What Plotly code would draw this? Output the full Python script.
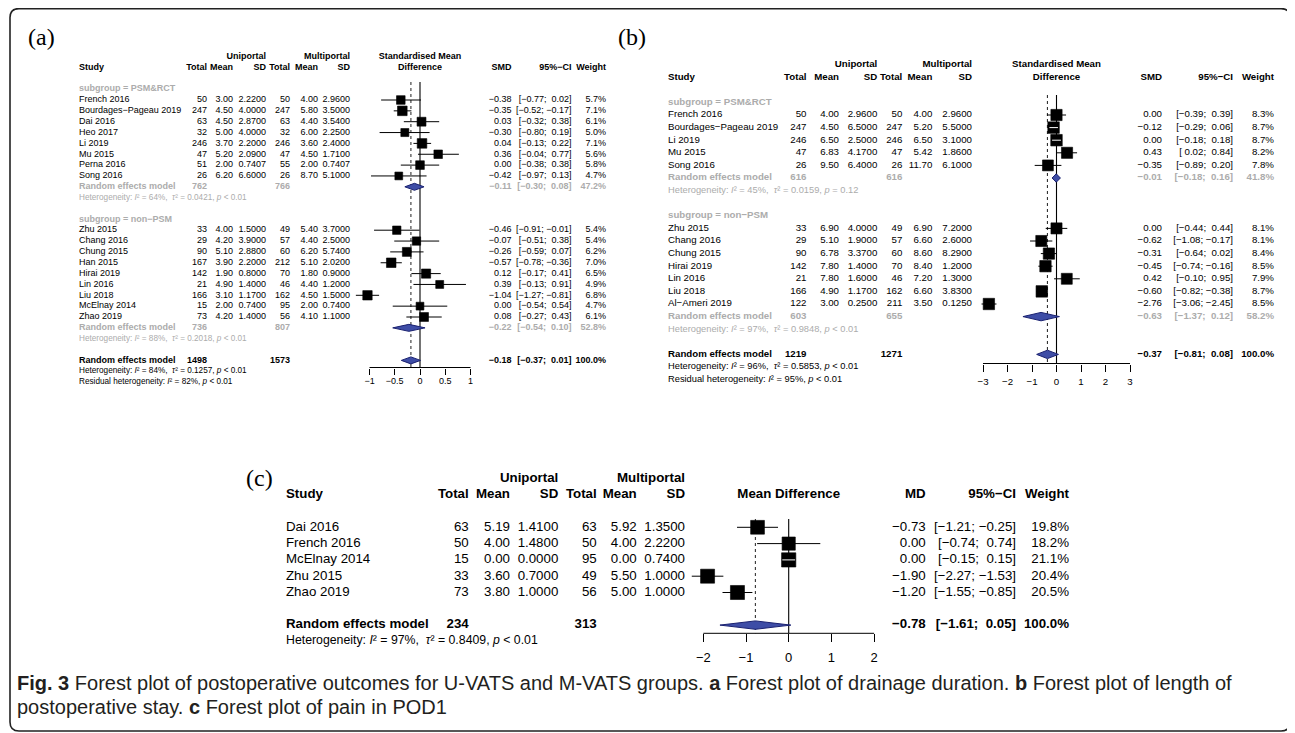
import math
import plotly.graph_objects as go

W, H = 1295, 733
OFF = 8  # the page body margin shifts the figure by this many pixels
SANS = "Liberation Sans, Arial, Helvetica, sans-serif"
SERIF = "Liberation Serif, Times New Roman, serif"
M = "\u2212"
NB = "\u00a0"
GRAY = "#acacac"
INK = "#000000"
DIA_FILL = "#3e4da6"
DIA_LINE = "#1a2170"

# ===================== Panel (a): drainage duration (SMD) =====================
A_STUDY = ["French 2016", "Bourdages−Pageau 2019", "Dai 2016", "Heo 2017", "Li 2019",
           "Mu 2015", "Perna 2016", "Song 2016",
           "Zhu 2015", "Chang 2016", "Chung 2015", "Han 2015", "Hirai 2019",
           "Lin 2016", "Liu 2018", "McElnay 2014", "Zhao 2019"]
A_GROUP = [0] * 8 + [1] * 9
A_N1 = [50, 247, 63, 32, 246, 47, 51, 26, 33, 29, 90, 167, 142, 21, 166, 15, 73]
A_M1 = [3.00, 4.50, 4.50, 5.00, 3.70, 5.20, 2.00, 6.20, 4.00, 4.20, 5.10, 3.90, 1.90, 4.90, 3.10, 2.00, 4.20]
A_S1 = [2.2200, 4.0000, 2.8700, 4.0000, 2.2000, 2.0900, 0.7407, 6.6000, 1.5000, 3.9000,
        2.8800, 2.2000, 0.8000, 1.4000, 1.1700, 0.7400, 1.4000]
A_N2 = [50, 247, 63, 32, 246, 47, 55, 26, 49, 57, 60, 212, 70, 46, 162, 95, 56]
A_M2 = [4.00, 5.80, 4.40, 6.00, 3.60, 4.50, 2.00, 8.70, 5.40, 4.40, 6.20, 5.10, 1.80, 4.40, 4.50, 2.00, 4.10]
A_S2 = [2.9600, 3.5000, 3.5400, 2.2500, 2.4000, 1.7100, 0.7407, 5.1000, 3.7000, 2.5000,
        5.7400, 2.0200, 0.9000, 1.2000, 1.5000, 0.7400, 1.1000]
A_EST = [-0.38, -0.35, 0.03, -0.30, 0.04, 0.36, 0.00, -0.42, -0.46, -0.07, -0.26, -0.57, 0.12, 0.39, -1.04, 0.00, 0.08]
A_LO = [-0.77, -0.52, -0.32, -0.80, -0.13, -0.04, -0.38, -0.97, -0.91, -0.51, -0.59, -0.78, -0.17, -0.13, -1.27, -0.54, -0.27]
A_HI = [0.02, -0.17, 0.38, 0.19, 0.22, 0.77, 0.38, 0.13, -0.01, 0.38, 0.07, -0.36, 0.41, 0.91, -0.81, 0.54, 0.43]
A_W = [5.7, 7.1, 6.1, 5.0, 7.1, 5.6, 5.8, 4.7, 5.4, 5.4, 6.2, 7.0, 6.5, 4.9, 6.8, 4.7, 6.1]
A_SUB_NAME = ["PSM&amp;RCT", "non−PSM"]
A_SUB_N1 = [762, 736]
A_SUB_N2 = [766, 807]
A_SUB_EST = [-0.11, -0.22]
A_SUB_LO = [-0.30, -0.54]
A_SUB_HI = [0.08, 0.10]
A_SUB_W = [47.2, 52.8]
A_SUB_I2 = [64, 88]
A_SUB_TAU2 = ["0.0421", "0.2018"]
A_SUB_P = ["&lt; 0.01", "&lt; 0.01"]
A_ALL_N = [1498, 1573]
A_ALL_EST = [-0.18, -0.37, 0.01]
A_ALL_HET = ["84", "0.1257", "&lt; 0.01"]
A_RESID = ["82", "&lt; 0.01"]
A_TICKS = [-1, -0.5, 0, 0.5, 1]

# ===================== Panel (b): length of postoperative stay (SMD) =====================
B_STUDY = ["French 2016", "Bourdages−Pageau 2019", "Li 2019", "Mu 2015", "Song 2016",
           "Zhu 2015", "Chang 2016", "Chung 2015", "Hirai 2019", "Lin 2016", "Liu 2018", "Al−Ameri 2019"]
B_GROUP = [0] * 5 + [1] * 7
B_N1 = [50, 247, 246, 47, 26, 33, 29, 90, 142, 21, 166, 122]
B_M1 = [4.00, 4.50, 6.50, 6.83, 9.50, 6.90, 5.10, 6.78, 7.80, 7.80, 4.90, 3.00]
B_S1 = [2.9600, 6.5000, 2.5000, 4.1700, 6.4000, 4.0000, 1.9000, 3.3700, 1.4000, 1.6000, 1.1700, 0.2500]
B_N2 = [50, 247, 246, 47, 26, 49, 57, 60, 70, 46, 162, 211]
B_M2 = [4.00, 5.20, 6.50, 5.42, 11.70, 6.90, 6.60, 8.60, 8.40, 7.20, 6.60, 3.50]
B_S2 = [2.9600, 5.5000, 3.1000, 1.8600, 6.1000, 7.2000, 2.6000, 8.2900, 1.2000, 1.3000, 3.8300, 0.1250]
B_EST = [0.00, -0.12, 0.00, 0.43, -0.35, 0.00, -0.62, -0.31, -0.45, 0.42, -0.60, -2.76]
B_LO = [-0.39, -0.29, -0.18, 0.02, -0.89, -0.44, -1.08, -0.64, -0.74, -0.10, -0.82, -3.06]
B_HI = [0.39, 0.06, 0.18, 0.84, 0.20, 0.44, -0.17, 0.02, -0.16, 0.95, -0.38, -2.45]
B_W = [8.3, 8.7, 8.7, 8.2, 7.8, 8.1, 8.1, 8.4, 8.5, 7.9, 8.7, 8.5]
B_SUB_NAME = ["PSM&amp;RCT", "non−PSM"]
B_SUB_N1 = [616, 603]
B_SUB_N2 = [616, 655]
B_SUB_EST = [-0.01, -0.63]
B_SUB_LO = [-0.18, -1.37]
B_SUB_HI = [0.16, 0.12]
B_SUB_W = [41.8, 58.2]
B_SUB_I2 = [45, 97]
B_SUB_TAU2 = ["0.0159", "0.9848"]
B_SUB_P = ["= 0.12", "&lt; 0.01"]
B_ALL_N = [1219, 1271]
B_ALL_EST = [-0.37, -0.81, 0.08]
B_ALL_HET = ["96", "0.5853", "&lt; 0.01"]
B_RESID = ["95", "&lt; 0.01"]
B_TICKS = [-3, -2, -1, 0, 1, 2, 3]

# ===================== Panel (c): pain in POD1 (MD) =====================
C_STUDY = ["Dai 2016", "French 2016", "McElnay 2014", "Zhu 2015", "Zhao 2019"]
C_N1 = [63, 50, 15, 33, 73]
C_M1 = [5.19, 4.00, 0.00, 3.60, 3.80]
C_S1 = [1.4100, 1.4800, 0.0000, 0.7000, 1.0000]
C_N2 = [63, 50, 95, 49, 56]
C_M2 = [5.92, 4.00, 0.00, 5.50, 5.00]
C_S2 = [1.3500, 2.2200, 0.7400, 1.0000, 1.0000]
C_EST = [-0.73, 0.00, 0.00, -1.90, -1.20]
C_LO = [-1.21, -0.74, -0.15, -2.27, -1.55]
C_HI = [-0.25, 0.74, 0.15, -1.53, -0.85]
C_W = [19.8, 18.2, 21.1, 20.4, 20.5]
C_ALL_N = [234, 313]
C_ALL_EST = [-0.78, -1.61, 0.05]
C_ALL_HET = ["97", "0.8409", "&lt; 0.01"]
C_TICKS = [-2, -1, 0, 1, 2]

CAPTION_1 = ("<b>Fig. 3</b> Forest plot of postoperative outcomes for U-VATS and M-VATS groups. "
             "<b>a</b> Forest plot of drainage duration. <b>b</b> Forest plot of length of")
CAPTION_2 = "postoperative stay. <b>c</b> Forest plot of pain in POD1"

# ---------------- layout configuration (window pixel positions) ----------------
CFG_A = dict(y0=100, sp=10.85, fs=9, hfs=8.2, study_x=79, cols=[207, 233, 266, 290, 318, 350],
             est_x=511.5, ci_x=571.5, w_x=606, x0=420, unit=50.5, R=1.6, vtop=82, axis_px=367.5,
             ticklen=6, tickfs=9, standoff=-1, sq=3.6, dia_px=3.5,
             title=["Standardised Mean", "Difference"], measure="SMD", head_k=-4,
             label="(a)", label_xy=(41, 37))
CFG_B = dict(y0=115, sp=12.6, fs=9.7, hfs=9.3, study_x=668, cols=[806.5, 839, 877.3, 902.3, 932.3, 972],
             est_x=1162, ci_x=1233, w_x=1274, x0=1056.5, unit=24.5, R=3.6, vtop=95, axis_px=363.5,
             ticklen=7, tickfs=9.7, standoff=2, sq=3.9, dia_px=4.2,
             title=["Standardised Mean", "Difference"], measure="SMD", head_k=-4,
             label="(b)", label_xy=(632, 37))
CFG_C = dict(y0=527.3, sp=16.3, fs=13.3, hfs=12.3, study_x=286, cols=[468.7, 510, 558.3, 596.7, 636.7, 685],
             est_x=925.7, ci_x=1016, w_x=1069, x0=788.7, unit=42.7, R=2.6, vtop=519, axis_px=633.3,
             ticklen=8, tickfs=13, standoff=4, sq=3.1, dia_px=4.2,
             title=[None, "Mean Difference"], measure="MD", head_k=-3,
             label="(c)", label_xy=(259, 478))


def px_x(x):
    return (x - OFF) / W


def px_y(y):
    return 1 - (y - OFF) / H


def fsig(v, d=2):
    s = f"{abs(v):.{d}f}"
    return (M + s) if v < 0 else s


def fpad(v):
    s = f"{abs(v):.2f}"
    return (M + s) if v < 0 else (NB + s)


def fci(lo, hi):
    return "[" + fpad(lo) + "; " + fpad(hi) + "]"


def het_txt(i2, tau2, p):
    return f"Heterogeneity: <i>I</i>² = {i2}%, {NB}<i>τ</i>² = {tau2}, <i>p</i> {p}"


fig = go.Figure()
TEXT = {}


def put(ya, x, k, txt, anchor, size, color):
    key = (ya, x, anchor, size)
    TEXT.setdefault(key, ([], [], []))
    TEXT[key][0].append(k)
    TEXT[key][1].append(txt)
    TEXT[key][2].append(color)


def draw_panel(ax, cfg, D):
    xa, ya = "x" + ax, "y" + ax
    y0, sp = cfg["y0"], cfg["sp"]

    def k_of(px):
        return (px - y0) / sp

    fs, hfs = cfg["fs"], cfg["hfs"]
    c = cfg["cols"]
    sx = cfg["study_x"]

    # headers
    h1, h2 = cfg["head_k"], cfg["head_k"] + 1
    put(ya, c[2], h1, "<b>Uniportal</b>", "r", fs, INK)
    put(ya, c[5], h1, "<b>Multiportal</b>", "r", fs, INK)
    put(ya, sx, h2, "<b>Study</b>", "l", fs, INK)
    for j, lab in enumerate(["Total", "Mean", "SD", "Total", "Mean", "SD"]):
        put(ya, c[j], h2, f"<b>{lab}</b>", "r", fs, INK)
    if cfg["title"][0]:
        put(ya, cfg["x0"], h1, f"<b>{cfg['title'][0]}</b>", "c", fs, INK)
    put(ya, cfg["x0"], h2, f"<b>{cfg['title'][1]}</b>", "c", fs, INK)
    put(ya, cfg["est_x"], h2, f"<b>{cfg['measure']}</b>", "r", fs, INK)
    put(ya, cfg["ci_x"], h2, f"<b>95%{M}CI</b>", "r", fs, INK)
    put(ya, cfg["w_x"], h2, "<b>Weight</b>", "r", fs, INK)

    study_rows = []
    diamonds = []  # (k, est, lo, hi)

    def study_row(i, k):
        put(ya, sx, k, D["study"][i], "l", fs, INK)
        put(ya, c[0], k, str(D["n1"][i]), "r", fs, INK)
        put(ya, c[1], k, f"{D['m1'][i]:.2f}", "r", fs, INK)
        put(ya, c[2], k, f"{D['s1'][i]:.4f}", "r", fs, INK)
        put(ya, c[3], k, str(D["n2"][i]), "r", fs, INK)
        put(ya, c[4], k, f"{D['m2'][i]:.2f}", "r", fs, INK)
        put(ya, c[5], k, f"{D['s2'][i]:.4f}", "r", fs, INK)
        put(ya, cfg["est_x"], k, fsig(D["est"][i]), "r", fs, INK)
        put(ya, cfg["ci_x"], k, fci(D["lo"][i], D["hi"][i]), "r", fs, INK)
        put(ya, cfg["w_x"], k, f"{D['w'][i]:.1f}%", "r", fs, INK)
        study_rows.append((i, k))

    def summary_row(k, n1, n2, est, lo, hi, w, col):
        put(ya, sx, k, "<b>Random effects model</b>", "l", fs, col)
        put(ya, c[0], k, f"<b>{n1}</b>", "r", fs, col)
        put(ya, c[3], k, f"<b>{n2}</b>", "r", fs, col)
        put(ya, cfg["est_x"], k, f"<b>{fsig(est)}</b>", "r", fs, col)
        put(ya, cfg["ci_x"], k, f"<b>{fci(lo, hi)}</b>", "r", fs, col)
        put(ya, cfg["w_x"], k, f"<b>{w:.1f}%</b>", "r", fs, col)
        diamonds.append((k, est, lo, hi))

    if D.get("group") is not None:
        k = -1
        for g in range(len(D["sub_name"])):
            put(ya, sx, k, f"<b>subgroup = {D['sub_name'][g]}</b>", "l", fs, GRAY)
            k += 1
            for i in range(len(D["study"])):
                if D["group"][i] == g:
                    study_row(i, k)
                    k += 1
            summary_row(k, D["sub_n1"][g], D["sub_n2"][g], D["sub_est"][g], D["sub_lo"][g],
                        D["sub_hi"][g], D["sub_w"][g], GRAY)
            k += 1
            put(ya, sx, k, het_txt(D["sub_i2"][g], D["sub_tau2"][g], D["sub_p"][g]), "l", hfs, GRAY)
            k += 2
    else:
        k = 0
        for i in range(len(D["study"])):
            study_row(i, k)
            k += 1
        k += 1
    est, lo, hi = D["all_est"]
    summary_row(k, D["all_n"][0], D["all_n"][1], est, lo, hi, 100.0, INK)
    put(ya, sx, k + 1, het_txt(*D["all_het"]), "l", hfs, INK)
    if D.get("resid") is not None:
        put(ya, sx, k + 2, f"Residual heterogeneity: <i>I</i>² = {D['resid'][0]}%, "
                           f"<i>p</i> {D['resid'][1]}", "l", hfs, INK)

    ktop, kax = k_of(cfg["vtop"]), k_of(cfg["axis_px"])
    common = dict(xaxis=xa, yaxis=ya, hoverinfo="skip", showlegend=False)

    # reference line at 0 and dotted line at pooled estimate
    fig.add_trace(go.Scatter(x=[0, 0], y=[ktop, kax], mode="lines",
                             line=dict(color=INK, width=1.1), **common))
    fig.add_trace(go.Scatter(x=[est, est], y=[ktop, kax], mode="lines",
                             line=dict(color="#333333", width=1.1, dash="dot"), **common))
    # axis line spanning the ticks
    ticks = D["ticks"]
    fig.add_trace(go.Scatter(x=[ticks[0], ticks[-1]], y=[kax, kax], mode="lines",
                             line=dict(color=INK, width=1), **common))

    # CI lines
    cx, cy = [], []
    for i, kk in study_rows:
        cx += [D["lo"][i], D["hi"][i], None]
        cy += [kk, kk, None]
    fig.add_trace(go.Scatter(x=cx, y=cy, mode="lines", line=dict(color=INK, width=1), **common))

    # squares (area proportional to weight)
    sizes = [cfg["sq"] * math.sqrt(D["w"][i]) for i, _ in study_rows]
    fig.add_trace(go.Scatter(x=[D["est"][i] for i, _ in study_rows], y=[kk for _, kk in study_rows],
                             mode="markers", cliponaxis=False,
                             marker=dict(symbol="square", size=sizes, color=INK, opacity=1,
                                         line=dict(width=0.6, color=INK)),
                             **common))
    # white CI inside squares that hide the whole interval
    wx, wy = [], []
    for (i, kk), s in zip(study_rows, sizes):
        if (D["hi"][i] - D["lo"][i]) * cfg["unit"] < s - 1:
            wx += [D["lo"][i], D["hi"][i], None]
            wy += [kk, kk, None]
    if wx:
        fig.add_trace(go.Scatter(x=wx, y=wy, mode="lines", line=dict(color="white", width=1), **common))

    # diamonds
    h = cfg["dia_px"] / sp
    dx, dy = [], []
    for kk, e, l, u in diamonds:
        dx += [l, e, u, e, l, None]
        dy += [kk, kk - h, kk, kk + h, kk, None]
    fig.add_trace(go.Scatter(x=dx, y=dy, mode="lines", fill="toself", fillcolor=DIA_FILL,
                             line=dict(color=DIA_LINE, width=1), **common))

    R, u, x0 = cfg["R"], cfg["unit"], cfg["x0"]
    fig.update_layout(**{
        "xaxis" + ax: dict(domain=[px_x(x0 - R * u), px_x(x0 + R * u)], range=[-R, R],
                           anchor="free", position=px_y(cfg["axis_px"]),
                           tickvals=ticks, ticks="outside", ticklen=cfg["ticklen"], tickwidth=1,
                           tickcolor=INK, showline=False, showgrid=False, zeroline=False,
                           ticklabelstandoff=cfg["standoff"],
                           tickfont=dict(family=SANS, size=cfg["tickfs"], color=INK), fixedrange=True),
        "yaxis" + ax: dict(domain=[0, 1], range=[k_of(H + OFF), k_of(OFF)], visible=False,
                           anchor="free", position=0, fixedrange=True),
    })
    fig.add_annotation(x=px_x(cfg["label_xy"][0]), y=px_y(cfg["label_xy"][1]), xref="paper", yref="paper",
                       text=cfg["label"], showarrow=False, xanchor="center", yanchor="middle",
                       font=dict(family=SERIF, size=24, color=INK))


DATA_A = dict(study=A_STUDY, group=A_GROUP, n1=A_N1, m1=A_M1, s1=A_S1, n2=A_N2, m2=A_M2, s2=A_S2,
              est=A_EST, lo=A_LO, hi=A_HI, w=A_W, sub_name=A_SUB_NAME, sub_n1=A_SUB_N1, sub_n2=A_SUB_N2,
              sub_est=A_SUB_EST, sub_lo=A_SUB_LO, sub_hi=A_SUB_HI, sub_w=A_SUB_W, sub_i2=A_SUB_I2,
              sub_tau2=A_SUB_TAU2, sub_p=A_SUB_P, all_n=A_ALL_N, all_est=A_ALL_EST, all_het=A_ALL_HET,
              resid=A_RESID, ticks=A_TICKS)
DATA_B = dict(study=B_STUDY, group=B_GROUP, n1=B_N1, m1=B_M1, s1=B_S1, n2=B_N2, m2=B_M2, s2=B_S2,
              est=B_EST, lo=B_LO, hi=B_HI, w=B_W, sub_name=B_SUB_NAME, sub_n1=B_SUB_N1, sub_n2=B_SUB_N2,
              sub_est=B_SUB_EST, sub_lo=B_SUB_LO, sub_hi=B_SUB_HI, sub_w=B_SUB_W, sub_i2=B_SUB_I2,
              sub_tau2=B_SUB_TAU2, sub_p=B_SUB_P, all_n=B_ALL_N, all_est=B_ALL_EST, all_het=B_ALL_HET,
              resid=B_RESID, ticks=B_TICKS)
DATA_C = dict(study=C_STUDY, group=None, n1=C_N1, m1=C_M1, s1=C_S1, n2=C_N2, m2=C_M2, s2=C_S2,
              est=C_EST, lo=C_LO, hi=C_HI, w=C_W, all_n=C_ALL_N, all_est=C_ALL_EST, all_het=C_ALL_HET,
              resid=None, ticks=C_TICKS)

draw_panel("", CFG_A, DATA_A)
draw_panel("2", CFG_B, DATA_B)
draw_panel("3", CFG_C, DATA_C)

POS = {"r": "middle left", "l": "middle right", "c": "middle center"}
for (ya, x, anchor, size), (ks, txts, cols) in TEXT.items():
    fig.add_trace(go.Scatter(x=[x] * len(ks), y=ks, text=txts, mode="text", textposition=POS[anchor],
                             textfont=dict(family=SANS, size=size, color=cols), cliponaxis=False,
                             xaxis="x4", yaxis=ya, hoverinfo="skip", showlegend=False))

# caption
fig.add_annotation(x=px_x(15), y=px_y(683), xref="paper", yref="paper", text=CAPTION_1, showarrow=False,
                   xanchor="left", yanchor="middle", font=dict(family=SANS, size=20, color="#231f20"))
fig.add_annotation(x=px_x(15), y=px_y(707), xref="paper", yref="paper", text=CAPTION_2, showarrow=False,
                   xanchor="left", yanchor="middle", font=dict(family=SANS, size=20, color="#231f20"))

# rounded frame
x1, x2 = px_x(10), px_x(1290)
yt, yb = px_y(8.6), px_y(731)
rx, ry = 9 / W, 9 / H
frame = (f"M {x1 + rx},{yt} L {x2 - rx},{yt} Q {x2},{yt} {x2},{yt - ry} L {x2},{yb + ry} "
         f"Q {x2},{yb} {x2 - rx},{yb} L {x1 + rx},{yb} Q {x1},{yb} {x1},{yb + ry} "
         f"L {x1},{yt - ry} Q {x1},{yt} {x1 + rx},{yt} Z")
fig.add_shape(type="path", path=frame, xref="paper", yref="paper", line=dict(color="#222222", width=1.6))

fig.update_layout(
    width=W, height=H, margin=dict(l=0, r=0, t=0, b=0), autosize=False,
    paper_bgcolor="white", plot_bgcolor="rgba(0,0,0,0)",
    xaxis4=dict(domain=[0, 1], range=[OFF, W + OFF], visible=False, anchor="free", position=0,
                fixedrange=True),
    showlegend=False,
)

fig.write_html("out.html")
